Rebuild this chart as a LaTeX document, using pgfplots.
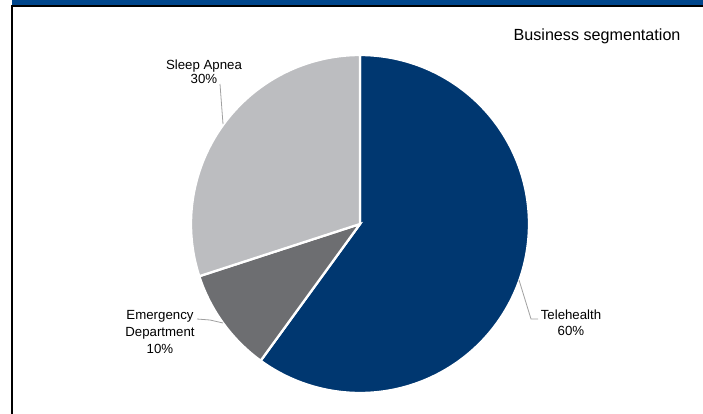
\documentclass[border=0pt]{standalone}
\usepackage{pgfplots}
\pgfplotsset{compat=1.18}
\usepackage{fontspec}
\setmainfont{Liberation Sans}
\definecolor{navy}{HTML}{003770}
\definecolor{dgrey}{HTML}{6D6E71}
\definecolor{lgrey}{HTML}{BCBDC0}
\definecolor{barblue}{HTML}{00468C}
\definecolor{leader}{HTML}{A0A0A0}
% shares (%)
\def\vTele{60}
\def\vEmer{10}
\def\vSleep{30}
\begin{document}
\begin{tikzpicture}
\pgfmathsetmacro\aA{90}
\pgfmathsetmacro\aB{\aA-3.6*\vTele}
\pgfmathsetmacro\aC{\aB-3.6*\vEmer}
\pgfmathsetmacro\aD{\aC-3.6*\vSleep}
\useasboundingbox (0,0) rectangle (703bp,414bp);
\begin{axis}[
  at={(0,0)}, anchor=south west,
  scale only axis, width=703bp, height=414bp,
  xmin=0, xmax=703, ymin=0, ymax=414, y dir=reverse,
  axis lines=none, clip=false,
]
% frame
\fill[barblue] (axis cs:12,0) rectangle (axis cs:703,5.2);
\draw[black, line width=2bp] (axis cs:11,6.2) -- (axis cs:703,6.2);
\draw[black, line width=2bp] (axis cs:12,5.2) -- (axis cs:12,414);
% pie
\addplot[fill=navy, draw=white, line width=2.3bp, domain=\aA:\aB, samples=150]
  ({360+169*cos(x)},{224-169*sin(x)}) -- (axis cs:360,224) -- cycle;
\addplot[fill=dgrey, draw=white, line width=2.3bp, domain=\aB:\aC, samples=40]
  ({360+169*cos(x)},{224-169*sin(x)}) -- (axis cs:360,224) -- cycle;
\addplot[fill=lgrey, draw=white, line width=2.3bp, domain=\aC:\aD, samples=90]
  ({360+169*cos(x)},{224-169*sin(x)}) -- (axis cs:360,224) -- cycle;
% leader lines
\draw[leader, line width=0.8bp] (axis cs:220,84) -- (axis cs:223,124);
\draw[leader, line width=0.8bp] (axis cs:197,319) -- (axis cs:210,320) -- (axis cs:223,323);
\draw[leader, line width=0.8bp] (axis cs:519,280) -- (axis cs:531,319) -- (axis cs:538,319);
% labels
\node[align=center, font=\fontsize{13.3}{14.5}\selectfont, anchor=center] at (axis cs:204,72) {Sleep Apnea\\30\%};
\node[align=center, font=\fontsize{13.3}{16.8}\selectfont, anchor=center] at (axis cs:160,332) {Emergency\\Department\\10\%};
\node[align=center, font=\fontsize{13.3}{16}\selectfont, anchor=center] at (axis cs:571,323) {Telehealth\\60\%};
\node[anchor=east, font=\fontsize{16.2}{18}\selectfont] at (axis cs:684,36) {Business segmentation};
\end{axis}
\end{tikzpicture}
\end{document}
